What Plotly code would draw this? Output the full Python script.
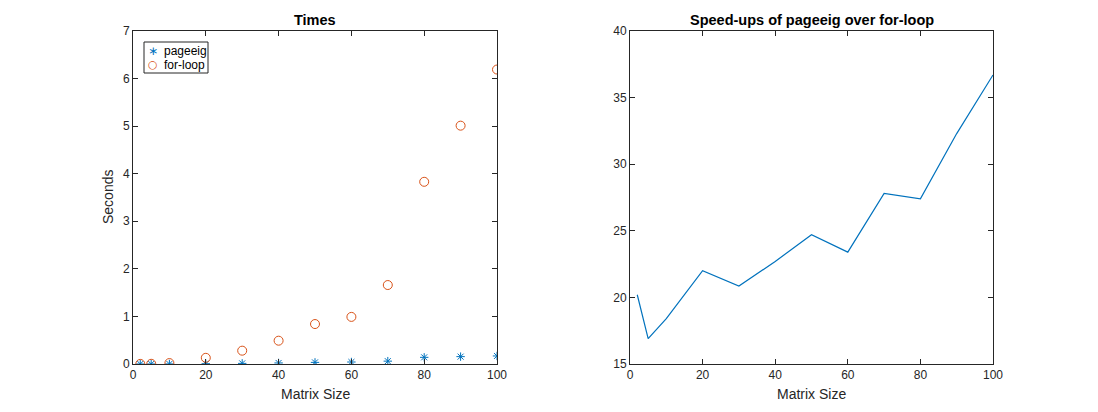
import plotly.graph_objects as go

matrix_size = [2, 5, 10, 20, 30, 40, 50, 60, 70, 80, 90, 100]
forloop_sec = [0.002, 0.004, 0.02, 0.13, 0.28, 0.49, 0.84, 0.99, 1.66, 3.83, 5.01, 6.19]
pageeig_sec = [0.0001, 0.0002, 0.001, 0.006, 0.013, 0.022, 0.034, 0.042, 0.06, 0.14, 0.155, 0.169]
speedup = [20.2, 16.9, 18.4, 22.0, 20.85, 22.7, 24.7, 23.4, 27.8, 27.4, 32.3, 36.7]
series_names = ["pageeig", "for-loop"]
x_ticks = [0, 20, 40, 60, 80, 100]
y_ticks_left = [0, 1, 2, 3, 4, 5, 6, 7]
y_ticks_right = [15, 20, 25, 30, 35, 40]

W, H = 1098, 412
blue = "#0072BD"
orange = "#D95319"
axc = "#262626"
font = "Liberation Sans, Arial, Helvetica, sans-serif"

fig = go.Figure()
fig.add_trace(go.Scatter(x=matrix_size, y=pageeig_sec, mode="markers", name=series_names[0],
                         marker=dict(symbol="asterisk", size=7, color=blue,
                                     line=dict(color=blue, width=1)),
                         xaxis="x", yaxis="y", showlegend=False))
fig.add_trace(go.Scatter(x=matrix_size, y=forloop_sec, mode="markers", name=series_names[1],
                         marker=dict(symbol="circle-open", size=9, color=orange,
                                     line=dict(color=orange, width=1)),
                         xaxis="x", yaxis="y", showlegend=False))
fig.add_trace(go.Scatter(x=matrix_size, y=speedup, mode="lines", showlegend=False,
                         line=dict(color=blue, width=1.2), xaxis="x2", yaxis="y2"))

def ax(**kw):
    d = dict(showline=True, linecolor=axc, linewidth=1, mirror="ticks", ticks="inside",
             ticklen=5, tickcolor=axc, showgrid=False, zeroline=False, automargin=False,
             tickfont=dict(family=font, size=12, color=axc))
    d.update(kw)
    return d

y0, y1 = 1 - 364 / H, 1 - 31 / H
fig.update_layout(
    width=W, height=H, margin=dict(l=0, r=0, t=0, b=0, pad=0, autoexpand=False),
    paper_bgcolor="white", plot_bgcolor="white",
    font=dict(family=font, color=axc),
    xaxis=ax(domain=[133 / W, 497 / W], range=[0, 100], tickvals=x_ticks, anchor="y"),
    yaxis=ax(domain=[y0, y1], range=[0, 7], tickvals=y_ticks_left, anchor="x"),
    xaxis2=ax(domain=[630 / W, 993 / W], range=[0, 100], tickvals=x_ticks, anchor="y2"),
    yaxis2=ax(domain=[y0, y1], range=[15, 40], tickvals=y_ticks_right, anchor="x2"),
    showlegend=False,
)

# legend box (drawn manually to match the compact MATLAB legend)
fig.add_shape(type="rect", xref="paper", yref="paper",
              x0=144 / W, x1=208 / W, y0=1 - 73 / H, y1=1 - 42 / H,
              line=dict(color=axc, width=1), fillcolor="white", layer="above")
leg_rows = [(series_names[0], "∗", blue, 50.5, 12), (series_names[1], "○", orange, 64.5, 11)]
for name, glyph, col, yy, gs in leg_rows:
    fig.add_annotation(text=glyph, x=153 / W, y=1 - yy / H, xref="paper", yref="paper",
                       showarrow=False, xanchor="center", yanchor="middle",
                       font=dict(family="DejaVu Sans", size=gs, color=col))
    fig.add_annotation(text=name, x=162 / W, y=1 - yy / H, xref="paper", yref="paper",
                       showarrow=False, xanchor="left", yanchor="middle",
                       font=dict(family=font, size=12, color="black"))

ann = [
    dict(text="<b>Times</b>", x=315 / W, y=1 - 20 / H, size=14.5),
    dict(text="<b>Speed-ups of pageeig over for-loop</b>", x=812 / W, y=1 - 20 / H, size=14.5),
    dict(text="Matrix Size", x=315 / W, y=1 - 394 / H, size=14),
    dict(text="Matrix Size", x=811 / W, y=1 - 394 / H, size=14),
]
for a in ann:
    fig.add_annotation(text=a["text"], x=a["x"], y=a["y"], xref="paper", yref="paper",
                       showarrow=False, xanchor="center", yanchor="middle",
                       font=dict(family=font, size=a["size"],
                                 color="black" if "<b>" in a["text"] else axc))
fig.add_annotation(text="Seconds", x=108 / W, y=1 - 197 / H, xref="paper", yref="paper",
                   showarrow=False, textangle=-90, xanchor="center", yanchor="middle",
                   font=dict(family=font, size=14, color=axc))

fig.write_html("out.html", config={"displayModeBar": False},
               post_script="document.body.style.margin='0px';document.body.style.padding='0px';")
